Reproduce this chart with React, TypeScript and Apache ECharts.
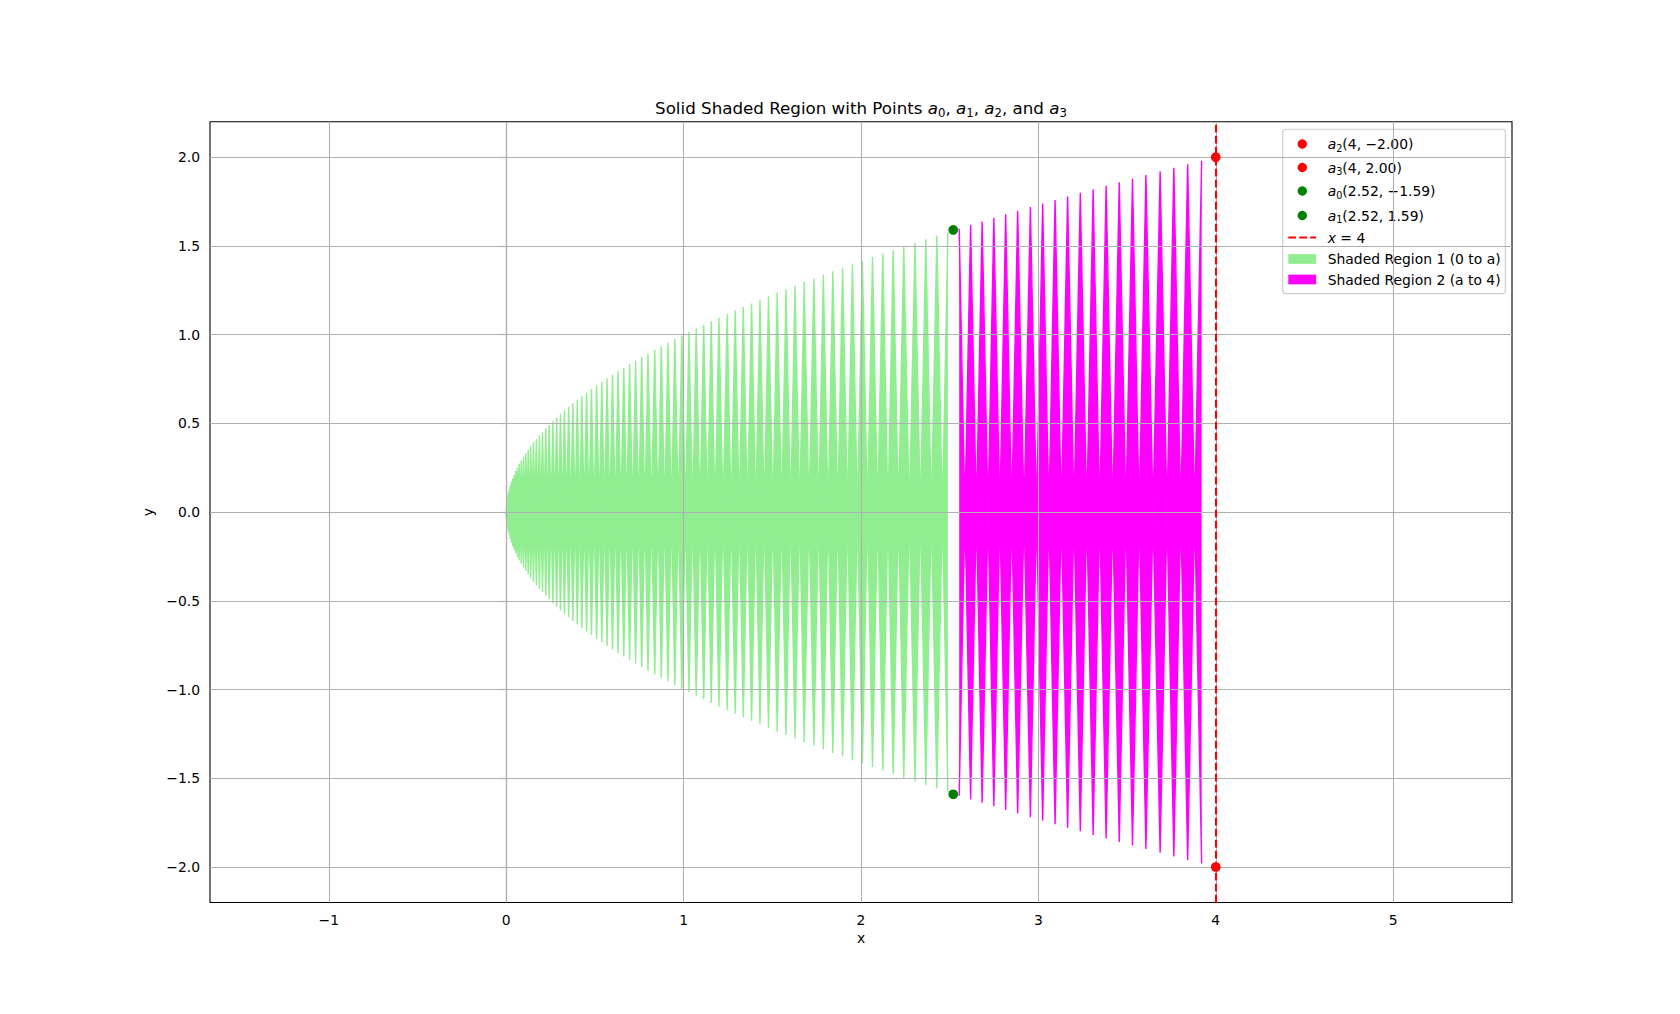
import { useEffect, useRef } from 'react';
import * as echarts from 'echarts';

const FONT = 'DejaVu Sans';

// split point between the two shaded regions
const BOUNDARY_A = 2.52;

// |y| of each spike tip along the parabola x = y^2
const spikeHeights = [
  0.010, 0.030, 0.050, 0.070, 0.090, 0.111, 0.131, 0.151, 0.171, 0.191,
  0.211, 0.231, 0.251, 0.271, 0.291, 0.312, 0.332, 0.352, 0.372, 0.392,
  0.412, 0.432, 0.452, 0.472, 0.492, 0.513, 0.533, 0.553, 0.573, 0.593,
  0.613, 0.633, 0.653, 0.673, 0.693, 0.714, 0.734, 0.754, 0.774, 0.794,
  0.814, 0.834, 0.854, 0.874, 0.894, 0.915, 0.935, 0.955, 0.975, 0.995,
  1.015, 1.035, 1.055, 1.075, 1.095, 1.116, 1.136, 1.156, 1.176, 1.196,
  1.216, 1.236, 1.256, 1.276, 1.296, 1.317, 1.337, 1.357, 1.377, 1.397,
  1.417, 1.437, 1.457, 1.477, 1.497, 1.518, 1.538, 1.558, 1.578, 1.598,
  1.618, 1.638, 1.658, 1.678, 1.698, 1.719, 1.739, 1.759, 1.779, 1.799,
  1.819, 1.839, 1.859, 1.879, 1.899, 1.920, 1.940, 1.960, 1.980,
];

const redPoints = [[4, -2], [4, 2]];
const greenPoints = [[2.52, -1.59], [2.52, 1.59]];
const verticalLineX = 4;

const xTicks = [-1, 0, 1, 2, 3, 4, 5];
const yTicks = [-2, -1.5, -1, -0.5, 0, 0.5, 1, 1.5, 2];

const titleText =
  'Solid Shaded Region with Points {i|a}{s|0}, {i|a}{s|1}, {i|a}{s|2}, and {i|a}{s|3}';

const legendLabels = [
  '{i|a}{s|2}(4, −2.00)',
  '{i|a}{s|3}(4, 2.00)',
  '{i|a}{s|0}(2.52, −1.59)',
  '{i|a}{s|1}(2.52, 1.59)',
  '{i|x} = 4',
  'Shaded Region 1 (0 to a)',
  'Shaded Region 2 (a to 4)',
];
const legendKinds = ['dot', 'dot', 'dot', 'dot', 'dash', 'patch', 'patch'];
const legendColors = ['red', 'red', 'green', 'green', 'red', '#90ee90', '#ff00ff'];

// zig-zag outline: spike tip, then back to the axis halfway to the next tip
function outline(heights: number[], sign: number): number[][] {
  const pts: number[][] = [];
  for (let i = 0; i < heights.length; i++) {
    const h = heights[i];
    const x = h * h;
    pts.push([x, sign * h]);
    if (i + 1 < heights.length) {
      const nx = heights[i + 1] * heights[i + 1];
      pts.push([(x + nx) / 2, 0]);
    }
  }
  return pts;
}

const minus = (s: string) => s.replace('-', '−');

const App = () => {
  const chartRef = useRef<HTMLDivElement>(null);

  useEffect(() => {
    if (!chartRef.current) return;
    const chart = echarts.init(chartRef.current, null, { renderer: 'svg' });

    const region1 = spikeHeights.filter((h) => h * h <= BOUNDARY_A);
    const region2 = spikeHeights.filter((h) => h * h > BOUNDARY_A);

    const fill = (name: string, color: string, data: number[][]) => ({
      type: 'line',
      name,
      data,
      symbol: 'none',
      showSymbol: false,
      silent: true,
      z: 2,
      lineStyle: { color, width: 1.4, join: 'bevel' },
      areaStyle: { color, opacity: 1 },
    });

    const sub = (size: number, lh: number) => ({
      fontSize: size,
      fontFamily: FONT,
      lineHeight: lh,
      verticalAlign: 'bottom',
    });

    const legendRich = {
      i: { fontSize: 13.9, fontFamily: FONT, fontStyle: 'italic', lineHeight: 18 },
      s: sub(9.7, 10),
    };

    const rowY = [144, 167.5, 191, 215.5, 237.5, 259, 279.5];
    const legendItems: any[] = [
      {
        type: 'rect',
        shape: { x: 1282.7, y: 129.3, width: 222.6, height: 164.3, r: 3 },
        style: { fill: 'rgba(255,255,255,0.8)', stroke: '#cccccc', lineWidth: 1.1 },
      },
    ];
    legendLabels.forEach((label, i) => {
      const y = rowY[i];
      const color = legendColors[i];
      if (legendKinds[i] === 'dot') {
        legendItems.push({
          type: 'circle',
          shape: { cx: 1302.3, cy: y, r: 4.7 },
          style: { fill: color },
        });
      } else if (legendKinds[i] === 'dash') {
        legendItems.push({
          type: 'line',
          shape: { x1: 1288.3, y1: y, x2: 1316.1, y2: y },
          style: { stroke: color, lineWidth: 2.08, lineDash: [7.7, 3.3] },
        });
      } else {
        legendItems.push({
          type: 'rect',
          shape: { x: 1288.3, y: y - 4.85, width: 27.8, height: 9.7 },
          style: { fill: color },
        });
      }
      legendItems.push({
        type: 'text',
        x: 1327.7,
        y,
        style: {
          text: label,
          rich: legendRich,
          fontSize: 13.9,
          fontFamily: FONT,
          lineHeight: 18,
          fill: '#000',
          align: 'left',
          verticalAlign: 'middle',
        },
      });
    });

    const axisText = { fontSize: 13.9, fontFamily: FONT, color: '#000' };

    const option = {
      animation: false,
      grid: {
        left: 210,
        right: 168,
        top: 121.7,
        bottom: 111.5,
        show: true,
        borderColor: '#000',
        borderWidth: 1.1,
        backgroundColor: 'transparent',
        containLabel: false,
        outerBoundsMode: 'none',
      },
      xAxis: {
        type: 'value',
        min: -1.67,
        max: 5.67,
        name: 'x',
        nameLocation: 'middle',
        nameGap: 25,
        nameTextStyle: axisText,
        axisLine: { show: true, lineStyle: { color: '#000', width: 1.1 } },
        axisTick: { show: true, length: 4.9, customValues: xTicks, lineStyle: { color: '#000', width: 1.1 } },
        axisLabel: {
          ...axisText,
          margin: 10,
          customValues: xTicks,
          formatter: (v: number) => minus(String(v)),
        },
        splitLine: { show: false },
      },
      yAxis: {
        type: 'value',
        min: -2.2,
        max: 2.2,
        name: 'y',
        nameLocation: 'middle',
        nameGap: 50,
        nameTextStyle: axisText,
        axisLine: { show: true, lineStyle: { color: '#000', width: 1.1 } },
        axisTick: { show: true, length: 4.9, customValues: yTicks, lineStyle: { color: '#000', width: 1.1 } },
        axisLabel: {
          ...axisText,
          margin: 10,
          customValues: yTicks,
          formatter: (v: number) => minus(v.toFixed(1)),
        },
        splitLine: { show: false },
      },
      series: [
        {
          type: 'scatter',
          name: 'a2 a3',
          data: redPoints,
          symbolSize: 9.7,
          itemStyle: { color: 'red', opacity: 1 },
          silent: true,
          z: 10,
          markLine: {
            silent: true,
            symbol: ['none', 'none'],
            z: 6,
            label: { show: false },
            lineStyle: { color: 'red', width: 2.08, type: [7.7, 3.3] },
            data: [{ xAxis: verticalLineX }],
          },
        },
        {
          type: 'scatter',
          name: 'a0 a1',
          data: greenPoints,
          symbolSize: 9.7,
          itemStyle: { color: 'green', opacity: 1 },
          silent: true,
          z: 10,
          markLine: {
            silent: true,
            symbol: ['none', 'none'],
            z: 4,
            label: { show: false },
            lineStyle: { color: '#b0b0b0', width: 1.1, type: 'solid' },
            data: [
              ...xTicks.map((v) => ({ xAxis: v })),
              ...yTicks.map((v) => ({ yAxis: v })),
            ],
          },
        },
        fill('Shaded Region 1 (0 to a)', '#90ee90', outline(region1, 1)),
        fill('Shaded Region 1 (0 to a) lower', '#90ee90', outline(region1, -1)),
        fill('Shaded Region 2 (a to 4)', '#ff00ff', outline(region2, 1)),
        fill('Shaded Region 2 (a to 4) lower', '#ff00ff', outline(region2, -1)),
      ],
      graphic: [
        {
          type: 'text',
          x: 861,
          y: 107.6,
          z: 10,
          style: {
            text: titleText,
            rich: {
              i: { fontSize: 16.7, fontFamily: FONT, fontStyle: 'italic', lineHeight: 22 },
              s: sub(11.7, 12),
            },
            fontSize: 16.7,
            fontFamily: FONT,
            lineHeight: 22,
            fill: '#000',
            align: 'center',
            verticalAlign: 'middle',
          },
        },
        { type: 'group', z: 20, children: legendItems },
      ],
    };

    chart.setOption(option as any);

    return () => {
      chart.dispose();
    };
  }, []);

  return (
    <div
      ref={chartRef}
      style={{ position: 'fixed', left: 0, top: 0, width: '1680px', height: '1014px', background: '#fff' }}
    />
  );
};

export default App;
